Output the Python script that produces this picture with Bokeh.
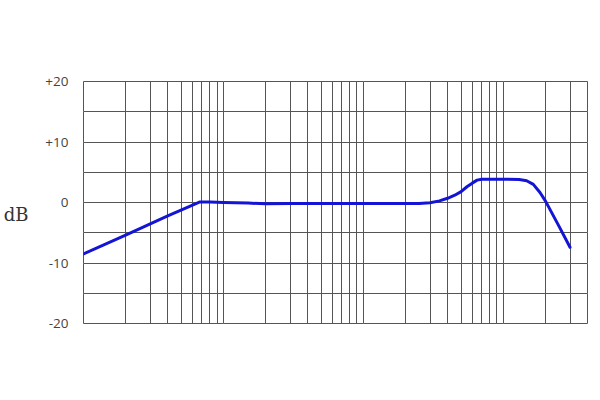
from bokeh.plotting import figure
from bokeh.models import Grid, FixedTicker, LinearAxis, ColumnDataSource
from bokeh.embed import file_html
from bokeh.resources import INLINE

# ---- data ----
freq_hz = [10, 20, 40, 68, 80, 100, 150, 200, 300, 1000, 2500, 3000, 3500, 4000,
           4500, 5000, 5500, 6000, 6500, 7000, 10000, 13000, 14700, 16400, 18300,
           20000, 25000, 30000]
level_db = [-8.5, -5.4, -2.2, 0.1, 0.1, 0.0, -0.1, -0.2, -0.15, -0.15, -0.15, -0.05,
            0.27, 0.7, 1.2, 1.8, 2.6, 3.2, 3.7, 3.85, 3.85, 3.8, 3.6, 3.0, 1.65,
            0.27, -3.9, -7.4]

y_tick_values = [20, 10, 0, -10, -20]
y_tick_labels = ["+20", "+10", "0", "-10", "-20"]
y_grid_values = [-15, -10, -5, 0, 5, 10, 15]
x_decades = [10, 100, 1000, 10000]
x_multipliers = [1, 2, 3, 4, 5, 6, 7, 8, 9]
x_min, x_max = 10, 40000
y_min, y_max = -20, 20
unit_label = "dB"
unit_label_y = -2

x_grid_values = [d * m for d in x_decades for m in x_multipliers
                 if x_min < d * m < x_max]

p = figure(width=592, height=392, x_axis_type="log",
           x_range=(x_min, x_max), y_range=(y_min, y_max),
           x_axis_location=None, y_axis_location=None,
           output_backend="svg", toolbar_location=None,
           min_border_left=83, min_border_right=5,
           min_border_top=81, min_border_bottom=69)
p.background_fill_color = "white"
p.border_fill_color = "white"
p.outline_line_color = "#555555"
p.outline_line_width = 1

grid_color = "#555555"
p.add_layout(Grid(dimension=0, ticker=FixedTicker(ticks=x_grid_values),
                  grid_line_color=grid_color, grid_line_width=1))
p.add_layout(Grid(dimension=1, ticker=FixedTicker(ticks=y_grid_values),
                  grid_line_color=grid_color, grid_line_width=1))

src = ColumnDataSource(dict(f=freq_hz, db=level_db))
p.line("f", "db", source=src, line_color="#1414d6", line_width=3,
       line_join="round", line_cap="round")

# tick-label axis (inner)
yax = LinearAxis(ticker=FixedTicker(ticks=y_tick_values),
                 major_label_overrides={v: t for v, t in zip(y_tick_values, y_tick_labels)},
                 axis_line_color=None, major_tick_line_color=None,
                 minor_tick_line_color=None, major_tick_in=0, major_tick_out=0,
                 axis_label_standoff=0,
                 major_label_standoff=15,
                 major_label_text_font="Open Sans",
                 major_label_text_font_size="13.5px",
                 major_label_text_color="#444444")
p.add_layout(yax, "left")

# unit axis (outer) carrying the horizontal "dB"
uax = LinearAxis(ticker=FixedTicker(ticks=[unit_label_y]),
                 major_label_overrides={unit_label_y: unit_label},
                 axis_line_color=None, major_tick_line_color=None,
                 minor_tick_line_color=None, major_tick_in=0, major_tick_out=0,
                 axis_label_standoff=0,
                 major_label_standoff=14,
                 major_label_text_font="DejaVu Serif",
                 major_label_text_font_size="18px",
                 major_label_text_color="#333333")
p.add_layout(uax, "left")

open("out.html", "w").write(file_html(p, INLINE))
